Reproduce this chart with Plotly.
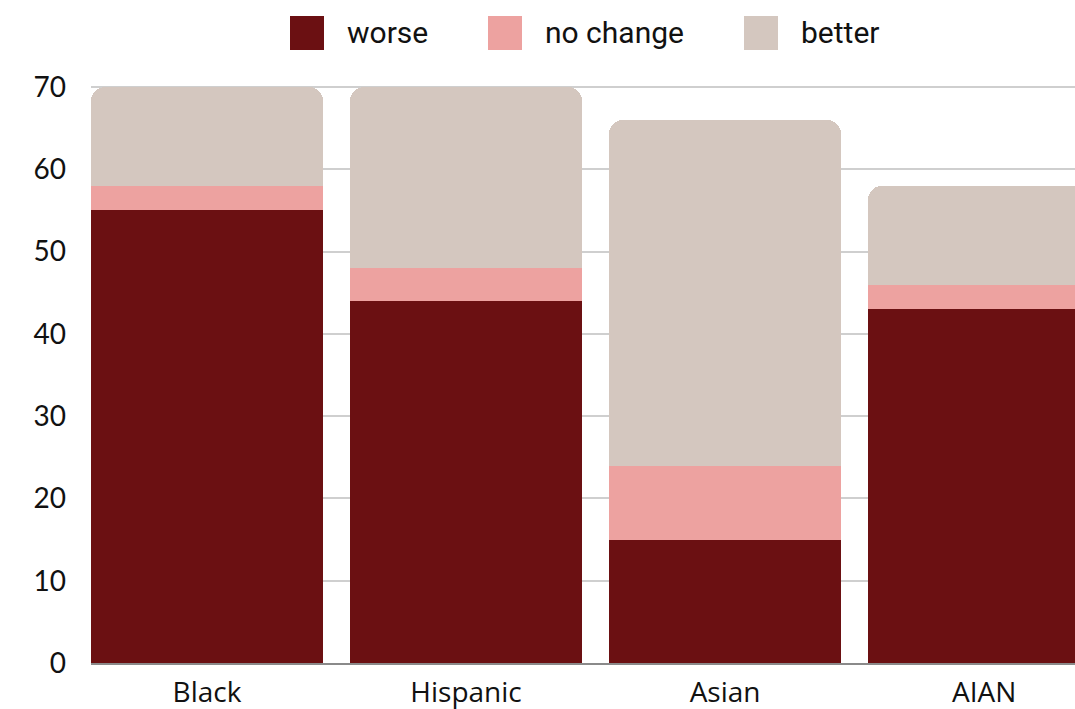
import plotly.graph_objects as go

categories = ["Black", "Hispanic", "Asian", "AIAN"]
series_names = ["worse", "no change", "better"]
worse = [55, 44, 15, 43]
no_change = [3, 4, 9, 3]
better = [12, 22, 42, 12]
y_ticks = [0, 10, 20, 30, 40, 50, 60, 70]

colors = {"worse": "#6B1012", "no change": "#EDA2A0", "better": "#D4C7BF"}
values = {"worse": worse, "no change": no_change, "better": better}

W, H = 1075, 709
ML, MR, MT, MB = 91, 0, 85, 46
Y_TOP = 70.25

fig = go.Figure()
for name in series_names:
    fig.add_trace(go.Bar(
        x=list(range(len(categories))), y=values[name], name=name,
        marker=dict(color=colors[name], line=dict(width=0)),
        showlegend=False,
    ))

PW = W - ML - MR
PH = H - MT - MB
# custom legend (large swatches)
legend_x = [290, 488, 744]   # left pixel of swatch
for name, lx in zip(series_names, legend_x):
    fig.add_shape(type="rect", xref="paper", yref="paper",
                  x0=(lx - ML) / PW, x1=(lx + 34 - ML) / PW,
                  y0=(H - MB - 50) / PH, y1=(H - MB - 16) / PH,
                  fillcolor=colors[name], line=dict(width=0), layer="above")
    fig.add_annotation(xref="paper", yref="paper",
                       x=(lx + 55 - ML) / PW, y=(H - MB - 32) / PH,
                       text=name, showarrow=False, xanchor="left", yanchor="middle",
                       font=dict(family="Roboto", size=30, color="#111111"))

fig.update_layout(
    width=W, height=H,
    margin=dict(l=ML, r=MR, t=MT, b=MB),
    barmode="stack", bargap=0.104, barcornerradius=14,
    paper_bgcolor="white", plot_bgcolor="white",
    showlegend=False,
    xaxis=dict(
        range=[-0.448, 3.351], tickmode="array",
        tickvals=list(range(len(categories))), ticktext=categories,
        showgrid=False, showline=True, linecolor="#8a8a8a", linewidth=1.5,
        ticks="", tickfont=dict(family="Open Sans", size=28, color="#111111"),
        ticklabelstandoff=4, zeroline=False, fixedrange=True,
    ),
    yaxis=dict(
        range=[0, Y_TOP], tickmode="array", tickvals=y_ticks,
        showgrid=True, gridcolor="#cfcfcf", gridwidth=1.5,
        showline=False, zeroline=False, ticks="",
        tickfont=dict(family="Lato", size=28, color="#111111"),
        ticklabelstandoff=24, fixedrange=True,
    ),
)

fig.write_html("out.html", config={"displayModeBar": False})
